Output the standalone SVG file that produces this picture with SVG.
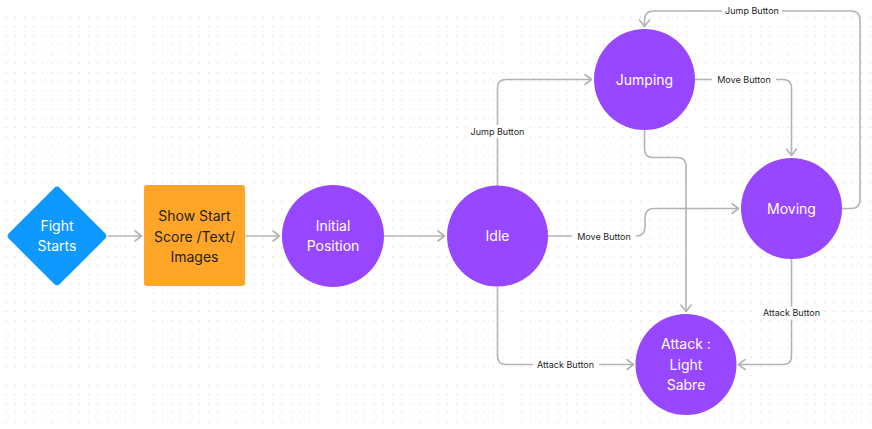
<svg xmlns="http://www.w3.org/2000/svg" width="872" height="429" viewBox="0 0 872 429">
<defs>
<pattern id="dots" x="5.5" y="7.5" width="9.2" height="9.2" patternUnits="userSpaceOnUse">
<rect x="0" y="0" width="1" height="1" fill="#cfcfcf"/>
</pattern>
<marker id="arr" viewBox="0 0 10 12" refX="9" refY="6" markerWidth="10" markerHeight="12" markerUnits="userSpaceOnUse" orient="auto">
<path d="M2,1 L8.5,6 L2,11" fill="none" stroke="#b3b3b3" stroke-width="1.6" stroke-linecap="round" stroke-linejoin="round"/>
</marker>
<style>
.c{fill:#9747FF}
.nt{font-family:Inter,"Liberation Sans",sans-serif;font-size:14px;fill:#ffffff;text-anchor:middle}
.dt{font-family:Inter,"Liberation Sans",sans-serif;font-size:14px;fill:#1e1e1e;text-anchor:middle}
.ln{fill:none;stroke:#b3b3b3;stroke-width:1.6}
.lb{font-family:Inter,"Liberation Sans",sans-serif;font-size:9px;fill:#1e1e1e;text-anchor:middle}
.bg{fill:#ffffff}
</style>
</defs>
<rect width="872" height="429" fill="#ffffff"/>
<rect width="872" height="429" fill="url(#dots)"/>

<g id="connectors">
<path class="ln" d="M108,236 H142" marker-end="url(#arr)"/>
<path class="ln" d="M245,236 H280" marker-end="url(#arr)"/>
<path class="ln" d="M384,236 H445" marker-end="url(#arr)"/>
<path class="ln" d="M497.5,186 V88 Q497.5,79.5 506,79.5 H592" marker-end="url(#arr)"/>
<path class="ln" d="M695,79.5 H783 Q791.5,79.5 791.5,88 V156" marker-end="url(#arr)"/>
<path class="ln" d="M842,208.5 H851 Q860,208.5 860,199.5 V20 Q860,11 851,11 H653.5 Q644.5,11 644.5,20 V27" marker-end="url(#arr)"/>
<path class="ln" d="M644.5,130 V149 Q644.5,157.5 653,157.5 H677 Q686,157.5 686,166 V312" marker-end="url(#arr)"/>
<path class="ln" d="M548,236 H636 Q645,236 645,227 V217.5 Q645,208.5 654,208.5 H739" marker-end="url(#arr)"/>
<path class="ln" d="M497.5,287 V356 Q497.5,364.5 506,364.5 H634" marker-end="url(#arr)"/>
<path class="ln" d="M791.5,259 V356 Q791.5,364.5 783,364.5 H738" marker-end="url(#arr)"/>
<rect class="bg" x="467" y="125" width="61" height="13"/>
<text class="lb" x="497.5" y="134.5">Jump Button</text>
<rect class="bg" x="712" y="73" width="64" height="13"/>
<text class="lb" x="744" y="82.5">Move Button</text>
<rect class="bg" x="722" y="4.5" width="60" height="13"/>
<text class="lb" x="752" y="14">Jump Button</text>
<rect class="bg" x="572" y="229.5" width="64" height="13"/>
<text class="lb" x="604" y="239.5">Move Button</text>
<rect class="bg" x="533" y="358" width="66" height="13"/>
<text class="lb" x="565.5" y="368">Attack Button</text>
<rect class="bg" x="759" y="306.5" width="65" height="13"/>
<text class="lb" x="791.5" y="316">Attack Button</text>
</g>

<g id="fight-starts">
<rect x="21" y="200" width="72" height="72" rx="4" transform="rotate(45 57 236)" fill="#0D99FF"/>
<text class="nt" x="57" y="231">Fight</text>
<text class="nt" x="57" y="251">Starts</text>
</g>
<g id="show-start">
<rect x="144" y="185" width="101" height="101" rx="3" fill="#FFA629"/>
<text class="dt" x="194.5" y="221">Show Start</text>
<text class="dt" x="194.5" y="241.5">Score /Text/</text>
<text class="dt" x="194.5" y="262">Images</text>
</g>
<g id="initial-position">
<circle class="c" cx="333" cy="236" r="51"/>
<text class="nt" x="333" y="231">Initial</text>
<text class="nt" x="333" y="251">Position</text>
</g>
<g id="idle">
<circle class="c" cx="497.5" cy="236" r="50.5"/>
<text class="nt" x="497.5" y="241">Idle</text>
</g>
<g id="jumping">
<circle class="c" cx="644.5" cy="79.5" r="50.5"/>
<text class="nt" x="644.5" y="84.5">Jumping</text>
</g>
<g id="moving">
<circle class="c" cx="791.5" cy="208.5" r="50.5"/>
<text class="nt" x="791.5" y="213.5">Moving</text>
</g>
<g id="attack">
<circle class="c" cx="686" cy="364.5" r="50.5"/>
<text class="nt" x="686" y="349">Attack :</text>
<text class="nt" x="686" y="369.5">Light</text>
<text class="nt" x="686" y="390">Sabre</text>
</g>
</svg>
